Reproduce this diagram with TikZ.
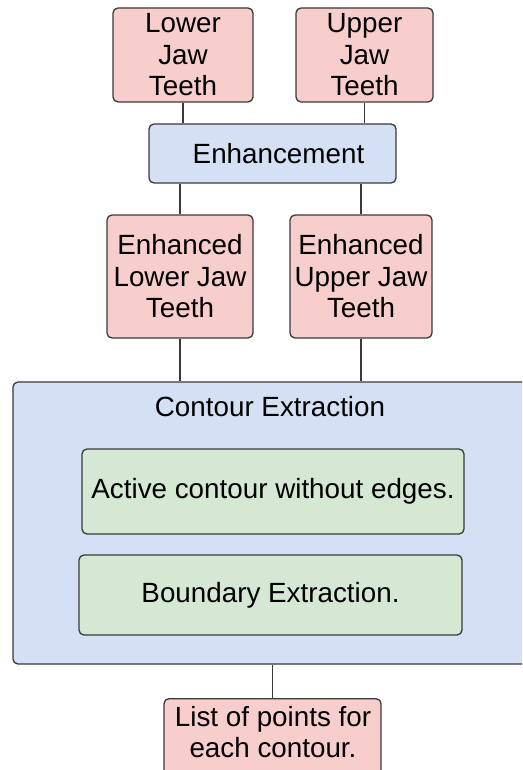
\documentclass[tikz,border=0pt]{standalone}
\usepackage{fontspec}
\setmainfont{Liberation Sans}
\definecolor{pinkfill}{HTML}{F8CECC}
\definecolor{bluefill}{HTML}{D4E1F5}
\definecolor{greenfill}{HTML}{D5E8D4}
\definecolor{edge}{HTML}{3A3A3A}
\newcommand{\boxfont}{\fontsize{27.8}{31.5}\selectfont}
\tikzset{
  box/.style={draw=edge, line width=1.3pt, rounded corners=5pt, inner sep=0pt,
    align=center, font=\boxfont},
  pinkbox/.style={box, fill=pinkfill},
  bluebox/.style={box, fill=bluefill},
  greenbox/.style={box, fill=greenfill},
  link/.style={draw=edge, line width=1.3pt},
}
\begin{document}
\begin{tikzpicture}[x=1pt, y=-1pt]
  \useasboundingbox (0,0) rectangle (522,770);
  \clip (0,0) rectangle (522,770);

  % inputs
  \node[pinkbox, minimum width=140pt, minimum height=94pt] (lj) at (183,55) {Lower\\Jaw\\Teeth};
  \node[pinkbox, minimum width=137pt, minimum height=94pt] (uj) at (364.5,55) {Upper\\Jaw\\Teeth};

  % enhancement stage
  \node[bluebox, minimum width=247pt, minimum height=59pt] (enh) at (272.5,153.5) {\hspace*{12pt}Enhancement};
  \node[pinkbox, minimum width=146pt, minimum height=123pt] (elj) at (180,276.5) {Enhanced\\Lower Jaw\\Teeth};
  \node[pinkbox, minimum width=142pt, minimum height=123pt] (euj) at (361,276.5) {Enhanced\\Upper Jaw\\Teeth};

  % contour extraction container and its steps
  \node[bluebox, minimum width=547pt, minimum height=282pt] (ce) at (286.5,523) {};
  \node[font=\boxfont] (cet) at (270,407) {Contour Extraction};
  \node[greenbox, minimum width=382pt, minimum height=85pt] (acw) at (273,491.5) {Active contour without edges.};
  \node[greenbox, minimum width=383pt, minimum height=80pt] (be) at (270.5,595) {Boundary Extraction.};

  % output
  \node[pinkbox, minimum width=217pt, minimum height=90pt, anchor=north] (out) at (272.5,698) {};
  \node[font=\boxfont, align=center] (outt) at (273,732) {List of points for\\each contour.};

  % connectors
  \draw[link] (lj.south) -- (lj.south |- enh.north);
  \draw[link] (uj.south) -- (uj.south |- enh.north);
  \draw[link] (elj.north |- enh.south) -- (elj.north);
  \draw[link] (euj.north |- enh.south) -- (euj.north);
  \draw[link] (elj.south) -- (elj.south |- ce.north);
  \draw[link] (euj.south) -- (euj.south |- ce.north);
  \draw[link] (out.north |- ce.south) -- (out.north);
\end{tikzpicture}
\end{document}
